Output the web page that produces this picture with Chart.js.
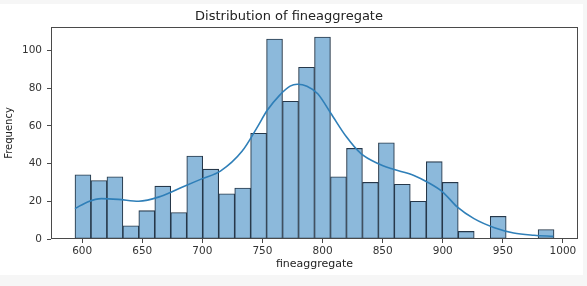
<!DOCTYPE html>
<html>
<head>
<meta charset="utf-8">
<script src="https://cdn.jsdelivr.net/npm/chart.js@4.4.1/dist/chart.umd.min.js"></script>
<style>
  html, body { margin: 0; padding: 0; background: #f6f6f6; }
  #wrap { position: relative; width: 587px; height: 286px; }
</style>
</head>
<body>
<div id="wrap"><canvas id="histChart" width="587" height="286"></canvas></div>
<script>
// Bin edges (30 bins between min and max of fineaggregate)
const binEdges = [594.0, 607.3, 620.6, 633.9, 647.1, 660.4, 673.7, 687.0, 700.3, 713.6,
  726.9, 740.2, 753.4, 766.7, 780.0, 793.3, 806.6, 819.9, 833.2, 846.5,
  859.7, 873.0, 886.3, 899.6, 912.9, 926.2, 939.5, 952.8, 966.0, 979.3, 992.6];

// Count per bin
const binCounts = [34, 31, 33, 7, 15, 28, 14, 44, 37, 24,
  27, 56, 106, 73, 91, 107, 33, 48, 30, 51,
  29, 20, 41, 30, 4, 0, 12, 0, 0, 5];

// KDE curve
const kdeX = [594, 605, 616, 630, 647, 665, 685, 700, 715, 733, 745, 754, 764, 773, 779,
  787, 796, 807, 820, 832, 846, 857, 876, 887, 900, 912, 926, 943, 959, 976, 992];
const kdeY = [16.1, 19.8, 21.4, 21.0, 20.0, 22.5, 28.0, 32.0, 36.0, 46.5, 58.5, 68.2, 76.0, 81.0, 82.0,
  81.0, 77.0, 66.5, 54.0, 45.2, 40.0, 37.3, 33.7, 30.2, 24.9, 17.0, 10.8, 6.0, 3.2, 2.0, 1.4];

const xTicks = [600, 650, 700, 750, 800, 850, 900, 950, 1000];
const yTicks = [0, 20, 40, 60, 80, 100];

// Build datasets
const barPoints = binCounts.map((c, i) => ({ x: (binEdges[i] + binEdges[i + 1]) / 2, y: c }));
const kdePoints = kdeX.map((x, i) => ({ x: x, y: kdeY[i] }));

const axisColor = '#4a4a4a';
const tickFont = { family: 'DejaVu Sans', size: 10.5 };

// White figure area + full box around the plot (matplotlib spines)
const framePlugin = {
  id: 'frame',
  beforeDraw(chart) {
    const ctx = chart.ctx;
    ctx.save();
    ctx.fillStyle = '#ffffff';
    ctx.fillRect(0, 4, 583, 271);
    ctx.restore();
  },
  afterDatasetsDraw(chart) {
    const { ctx, chartArea: a } = chart;
    ctx.save();
    ctx.strokeStyle = axisColor;
    ctx.lineWidth = 1;
    ctx.strokeRect(a.left + 0.5, a.top + 0.5, a.right - a.left - 1, a.bottom - a.top - 1);
    ctx.restore();
  }
};

new Chart(document.getElementById('histChart'), {
  type: 'bar',
  data: {
    datasets: [
      {
        type: 'line',
        data: kdePoints,
        borderColor: '#2f7fb8',
        borderWidth: 1.6,
        pointRadius: 0,
        tension: 0.4,
        cubicInterpolationMode: 'monotone',
        fill: false,
        order: 0
      },
      {
        type: 'bar',
        data: barPoints,
        backgroundColor: '#8cb9db',
        borderColor: '#26384a',
        borderWidth: 1.1,
        borderSkipped: false,
        barPercentage: 1,
        categoryPercentage: 1,
        grouped: false,
        order: 1
      }
    ]
  },
  options: {
    responsive: false,
    animation: false,
    layout: { padding: { left: 0, right: 9, top: 0, bottom: 0 } },
    plugins: {
      legend: { display: false },
      tooltip: { enabled: false },
      title: {
        display: true,
        text: 'Distribution of fineaggregate',
        color: '#222',
        font: { family: 'DejaVu Sans', size: 13, weight: 'normal' },
        padding: { top: 8.7, bottom: 2.7 }
      }
    },
    scales: {
      x: {
        type: 'linear',
        offset: false,
        min: 574.07,
        max: 1012.53,
        afterBuildTicks(scale) { scale.ticks = xTicks.map(v => ({ value: v })); },
        afterFit(scale) { scale.height = 47; },
        ticks: {
          color: '#333', font: tickFont, padding: 2, maxRotation: 0, autoSkip: false,
          callback: (v) => String(v)
        },
        grid: { offset: false, drawOnChartArea: false, drawTicks: true, tickLength: 4, tickColor: axisColor },
        border: { display: false },
        title: {
          display: true,
          text: 'fineaggregate',
          color: '#222',
          font: { family: 'DejaVu Sans', size: 11 },
          padding: { top: 0, bottom: 15.4 }
        }
      },
      y: {
        min: 0,
        max: 112.35,
        afterBuildTicks(scale) { scale.ticks = yTicks.map(v => ({ value: v })); },
        afterFit(scale) { scale.width = 51; },
        ticks: { color: '#333', font: tickFont, padding: 5 },
        grid: { drawOnChartArea: false, drawTicks: true, tickLength: 4, tickColor: axisColor },
        border: { display: false },
        title: {
          display: true,
          text: 'Frequency',
          color: '#222',
          font: { family: 'DejaVu Sans', size: 10 },
          padding: { top: 3, bottom: 0 }
        }
      }
    }
  },
  plugins: [framePlugin]
});
</script>
</body>
</html>
